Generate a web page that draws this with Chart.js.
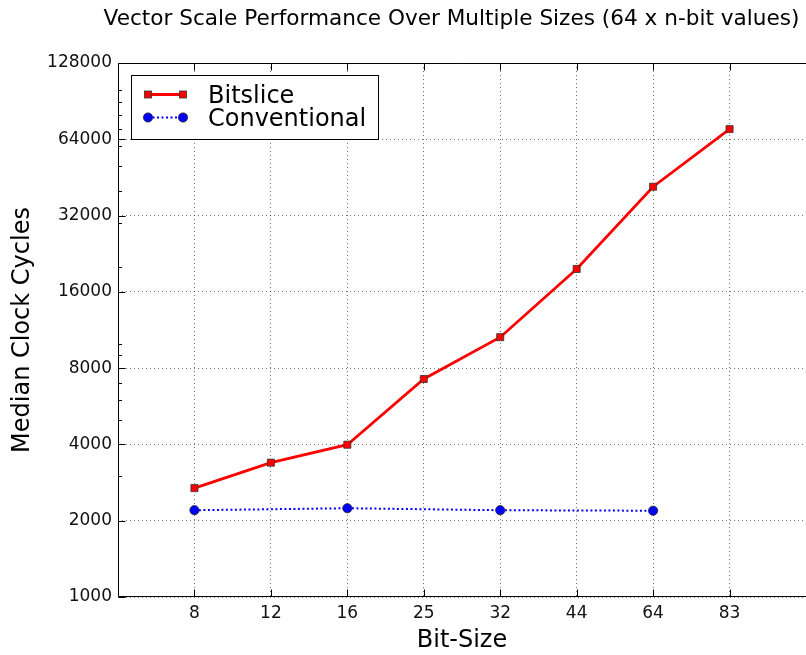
<!DOCTYPE html>
<html><head><meta charset="utf-8">
<script src="https://cdn.jsdelivr.net/npm/chart.js@4.4.1/dist/chart.umd.min.js"></script>
<style>html,body{margin:0;padding:0;background:#fff;overflow:hidden}canvas{display:block}</style>
</head><body>
<canvas id="c" width="806" height="655"></canvas>
<script>
const bitSizes = ['8', '12', '16', '25', '32', '44', '64', '83'];
const bitslice = [2690, 3390, 3990, 7250, 10600, 19700, 41600, 70200];
const conventional = [2200, null, 2240, null, 2200, null, 2190, null];
const yTicks = [1000, 2000, 4000, 8000, 16000, 32000, 64000, 128000];
const yMinorTicks = [3000, 5000, 6000, 7000, 9000, 10000, 20000, 30000, 40000, 50000, 60000, 70000, 80000, 90000, 100000];
const titleText = 'Vector Scale Performance Over Multiple Sizes (64 x n-bit values)';
const seriesNames = ['Bitslice', 'Conventional'];
const xTitle = 'Bit-Size';
const yTitle = 'Median Clock Cycles';

const FONT = '"DejaVu Sans", sans-serif';

const toPoints = arr => arr.map((v, i) => v == null ? null : { x: i + 1, y: v }).filter(Boolean);

const framePlugin = {
  id: 'frame',
  afterDatasetsDraw(chart) {
    const { ctx, chartArea: a, scales: { x, y } } = chart;
    ctx.save();
    ctx.strokeStyle = '#000';
    ctx.lineWidth = 1;
    ctx.setLineDash([]);
    const L = Math.round(a.left) + 0.5, T = Math.round(a.top) + 0.5, B = Math.round(a.bottom) - 0.5, R = a.right;
    ctx.beginPath();
    ctx.moveTo(L, T); ctx.lineTo(R, T);
    ctx.moveTo(L, T); ctx.lineTo(L, B);
    ctx.moveTo(L, B); ctx.lineTo(R, B);
    for (let i = 1; i <= bitSizes.length; i++) {
      const px = Math.round(x.getPixelForValue(i)) + 0.5;
      ctx.moveTo(px, B); ctx.lineTo(px, B - 7);
      ctx.moveTo(px, T); ctx.lineTo(px, T + 7);
    }
    yTicks.forEach(v => {
      const py = Math.round(y.getPixelForValue(v)) + 0.5;
      ctx.moveTo(L, py); ctx.lineTo(L + 7, py);
    });
    yMinorTicks.forEach(v => {
      const py = Math.round(y.getPixelForValue(v)) + 0.5;
      ctx.moveTo(L, py); ctx.lineTo(L + 3.5, py);
    });
    ctx.stroke();
    ctx.restore();
  },
  afterDraw(chart) {
    const { ctx } = chart;
    ctx.save();
    ctx.fillStyle = '#000';
    ctx.font = '21.6px ' + FONT;
    ctx.textAlign = 'center';
    ctx.textBaseline = 'alphabetic';
    ctx.fillText(titleText, 451.5, 25);
    // legend
    ctx.fillStyle = '#fff';
    ctx.fillRect(131, 75, 247, 64);
    ctx.strokeStyle = '#000';
    ctx.lineWidth = 1;
    ctx.strokeRect(131.5, 75.5, 247, 64);
    ctx.strokeStyle = '#ff0000';
    ctx.lineWidth = 2.8;
    ctx.beginPath(); ctx.moveTo(148, 94.5); ctx.lineTo(183, 94.5); ctx.stroke();
    [148, 183].forEach(cx => {
      ctx.fillStyle = '#ff0000';
      ctx.fillRect(cx - 3.5, 91, 7, 7);
      ctx.strokeStyle = '#333'; ctx.lineWidth = 0.8;
      ctx.strokeRect(cx - 3.5, 91, 7, 7);
    });
    ctx.strokeStyle = '#0000ff';
    ctx.lineWidth = 2;
    ctx.setLineDash([2, 2.5]);
    ctx.beginPath(); ctx.moveTo(148, 117.5); ctx.lineTo(183, 117.5); ctx.stroke();
    ctx.setLineDash([]);
    [148, 183].forEach(cx => {
      ctx.beginPath(); ctx.arc(cx, 117.5, 4.6, 0, Math.PI * 2);
      ctx.fillStyle = '#0000ff'; ctx.fill();
      ctx.strokeStyle = '#222'; ctx.lineWidth = 0.8; ctx.stroke();
    });
    ctx.fillStyle = '#000';
    ctx.font = '24px ' + FONT;
    ctx.textAlign = 'left';
    ctx.fillText(seriesNames[0], 208, 103);
    ctx.fillText(seriesNames[1], 208, 126);
    ctx.restore();
  }
};

new Chart(document.getElementById('c'), {
  type: 'line',
  data: {
    datasets: [
      {
        label: seriesNames[0],
        data: toPoints(bitslice),
        borderColor: '#ff0000',
        borderWidth: 2.8,
        pointStyle: 'rect',
        pointRadius: 5,
        pointBackgroundColor: '#ff0000',
        pointBorderColor: '#333',
        pointBorderWidth: 0.8,
        tension: 0,
        fill: false
      },
      {
        label: seriesNames[1],
        data: toPoints(conventional),
        borderColor: '#0000ff',
        borderWidth: 2,
        borderDash: [2, 2.5],
        pointStyle: 'circle',
        pointRadius: 4.6,
        pointBackgroundColor: '#0000ff',
        pointBorderColor: '#222',
        pointBorderWidth: 0.8,
        tension: 0,
        fill: false
      }
    ]
  },
  options: {
    responsive: false,
    animation: false,
    devicePixelRatio: 1,
    layout: { autoPadding: false, padding: { top: 63, left: 0, right: -2, bottom: 0 } },
    plugins: { legend: { display: false }, title: { display: false }, tooltip: { enabled: false } },
    scales: {
      x: {
        type: 'linear',
        min: 0,
        max: 9,
        afterBuildTicks: s => { s.ticks = bitSizes.map((b, i) => ({ value: i + 1 })); },
        afterFit: s => { s.height = 58; s.paddingLeft = 0; s.paddingRight = 0; },
        ticks: {
          callback: v => bitSizes[v - 1],
          font: { family: FONT, size: 17 },
          color: '#111',
          padding: 6,
          maxRotation: 0,
          autoSkip: false
        },
        grid: { color: 'rgba(0,0,0,0.55)', lineWidth: 1, drawTicks: false },
        border: { display: false, dash: [1, 3] },
        title: {
          display: true,
          text: xTitle,
          font: { family: FONT, size: 24 },
          color: '#000',
          padding: { top: 0, bottom: 0 }
        }
      },
      y: {
        type: 'logarithmic',
        min: 1000,
        max: 128000,
        afterBuildTicks: s => { s.ticks = yTicks.map(v => ({ value: v })); },
        afterFit: s => { s.width = 118; s.paddingTop = 0; s.paddingBottom = 0; },
        ticks: {
          callback: v => String(v),
          font: { family: FONT, size: 17 },
          color: '#111',
          padding: 6,
          autoSkip: false
        },
        grid: { color: 'rgba(0,0,0,0.55)', lineWidth: 1, drawTicks: false },
        border: { display: false, dash: [1, 3] },
        title: {
          display: true,
          text: yTitle,
          font: { family: FONT, size: 24 },
          color: '#000',
          padding: { top: 8, bottom: 0 }
        }
      }
    }
  },
  plugins: [framePlugin]
});
</script>
</body></html>
